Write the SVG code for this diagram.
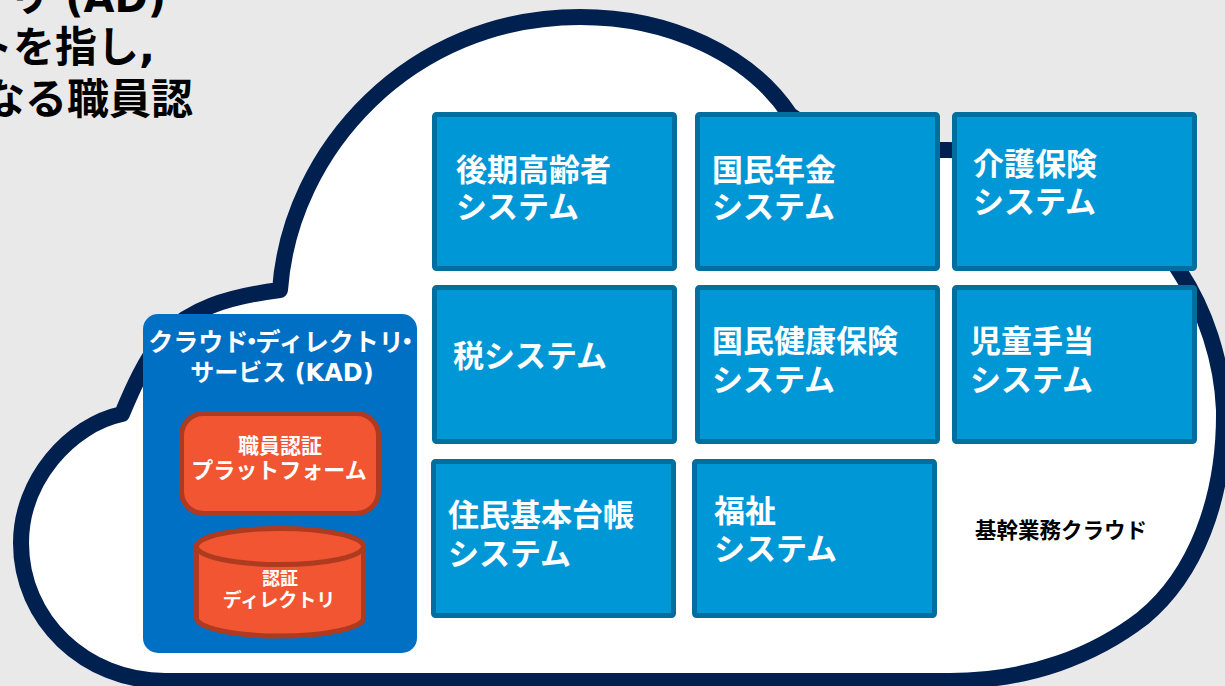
<svg xmlns="http://www.w3.org/2000/svg" width="1225" height="686" viewBox="0 0 1225 686">
<style>
text{font-family:"DejaVu Sans","Noto Sans CJK JP",sans-serif;font-weight:700}
.sys{fill:#0097d7;stroke:#006f9f;stroke-width:5}
.st{fill:#fff;font-size:31px}
.or{fill:#f15532;stroke:#ae3a20;stroke-width:5}
.w{fill:#fff;text-anchor:middle}
</style>
<rect width="1225" height="686" fill="#e9e9e9"/>
<g id="heading" font-size="42" text-anchor="end" fill="#000">
<text x="166" y="12">リ <tspan font-size="40">(AD)</tspan></text>
<text x="155" y="62">トを指し,</text>
<text x="193" y="114">なる職員認</text>
</g>
<g id="cloud">
<path d="M122,414 C70,425 21,480 21,543 C21,620 85,681 165,681 L950,681 C1030,681 1095,655 1143,618 C1195,575 1225,500 1224,410 C1222,360 1205,310 1180,272 C1130,190 1040,148 940,150 C900,150 830,145 790,115 C750,55 670,17 580,17 C410,17 290,150 280,290 C225,297 190,310 165,335 C145,360 132,390 122,414 Z" fill="#fff" stroke="#002050" stroke-width="16" stroke-linejoin="round"/>
</g>
<g id="connectors"></g>
<g id="sys1"><rect class="sys" x="434.500" y="114.500" width="240" height="154" rx="2"/><text class="st" x="456" y="181">後期高齢者</text><text class="st" x="456" y="218">システム</text></g>
<g id="sys2"><rect class="sys" x="697.500" y="114.500" width="240" height="154" rx="2"/><text class="st" x="712" y="181">国民年金</text><text class="st" x="712" y="218">システム</text></g>
<g id="sys3"><rect class="sys" x="954.500" y="114.500" width="240" height="154" rx="2"/><text class="st" x="973" y="175">介護保険</text><text class="st" x="973" y="213">システム</text></g>
<g id="sys4"><rect class="sys" x="434.500" y="287.500" width="240" height="154" rx="2"/><text class="st" x="453" y="367">税システム</text></g>
<g id="sys5"><rect class="sys" x="697.500" y="287.500" width="240" height="154" rx="2"/><text class="st" x="712" y="352">国民健康保険</text><text class="st" x="712" y="391">システム</text></g>
<g id="sys6"><rect class="sys" x="954.500" y="287.500" width="240" height="154" rx="2"/><text class="st" x="970" y="352">児童手当</text><text class="st" x="970" y="391">システム</text></g>
<g id="sys7"><rect class="sys" x="433.500" y="461.500" width="240" height="154" rx="2"/><text class="st" x="448" y="526">住民基本台帳</text><text class="st" x="448" y="565">システム</text></g>
<g id="sys8"><rect class="sys" x="694.500" y="461.500" width="240" height="154" rx="2"/><text class="st" x="714" y="522">福祉</text><text class="st" x="714" y="560">システム</text></g>
<g id="kad"><rect x="143" y="314" width="274" height="339" rx="15" fill="#0070c5"/>
<text class="w" x="284" y="351" font-size="25">クラウド<tspan dx="-9">・</tspan><tspan dx="-9">ディレクトリ</tspan><tspan dx="-9">・</tspan></text>
<text class="w" x="282" y="381" font-size="24">サービス (KAD)</text></g>
<g id="platform"><rect class="or" x="181.500" y="413.500" width="197" height="100" rx="22"/>
<text class="w" x="280" y="453" font-size="21">職員認証</text><text class="w" x="279" y="478" font-size="22">プラットフォーム</text></g>
<g id="directory"><path class="or" d="M196.500,546.500 V618 A83.500,18 0 0 0 363.500,618 V546.500 Z"/><ellipse class="or" cx="280" cy="546.500" rx="83.500" ry="18"/>
<text class="w" x="280" y="585" font-size="18">認証</text><text class="w" x="279" y="607" font-size="19">ディレクトリ</text></g>
<g id="label"><text x="975" y="538" font-size="21.500" fill="#000">基幹業務クラウド</text></g>
</svg>
